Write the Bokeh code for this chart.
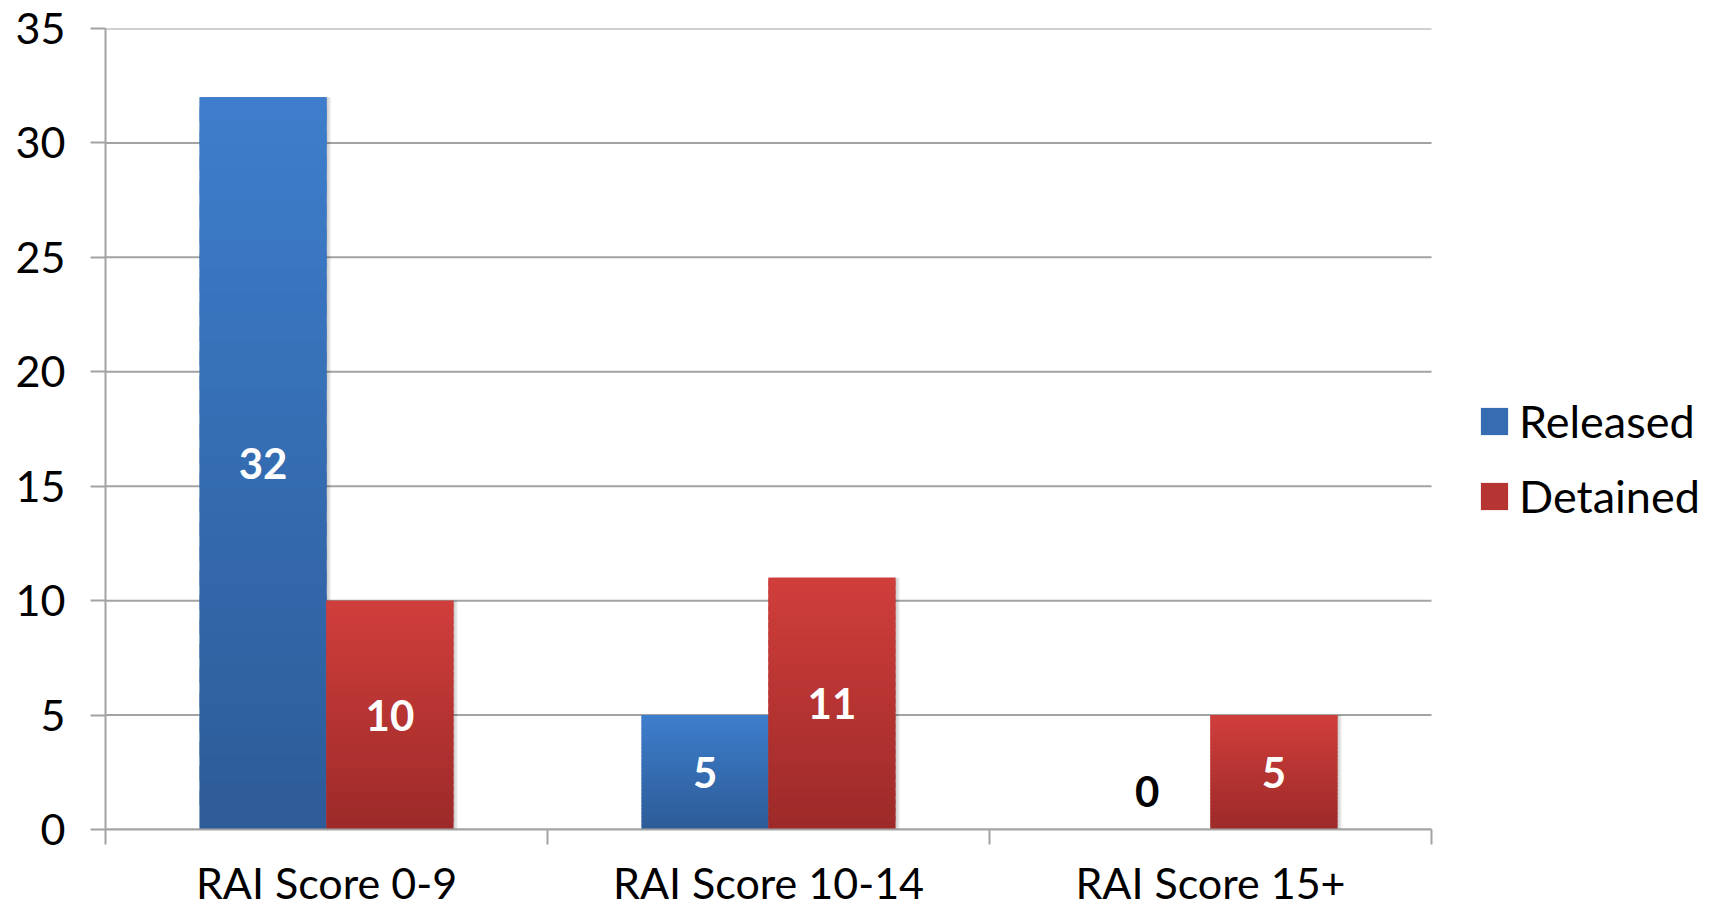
from bokeh.plotting import figure
from bokeh.models import ColumnDataSource, FixedTicker, Legend, LegendItem
from bokeh.core.properties import value
from bokeh.embed import file_html
from bokeh.resources import INLINE

categories = ["RAI Score 0-9", "RAI Score 10-14", "RAI Score 15+"]
released = [32, 5, 0]
detained = [10, 11, 5]
series_names = ["Released", "Detained"]
y_ticks = [0, 5, 10, 15, 20, 25, 30, 35]

FONT = "Lato"
BLUE_TOP, BLUE_BOT = (0x3D, 0x7E, 0xCC), (0x2D, 0x5B, 0x97)
RED_TOP, RED_BOT = (0xD0, 0x3E, 0x3B), (0x9C, 0x2A, 0x29)
GRID = "#A3A3A3"

def mix(a, b, t):
    return "#%02x%02x%02x" % tuple(int(round(a[i] + (b[i] - a[i]) * t)) for i in range(3))

ncat = len(categories)
CAT_PX = 442.0
# frame extends to the right edge so the legend (inside the frame) is not clipped
x_end = (1709 - 105) / CAT_PX
p = figure(width=1709, height=911, x_range=(0, x_end), y_range=(0, y_ticks[-1]),
           output_backend="svg", toolbar_location=None,
           min_border_left=105, min_border_right=0, min_border_top=28, min_border_bottom=82)
p.outline_line_color = None
p.background_fill_color = "white"
p.xgrid.visible = False
p.ygrid.visible = False

# horizontal gridlines limited to the category area
p.segment(x0=[0] * len(y_ticks), x1=[ncat] * len(y_ticks), y0=y_ticks, y1=y_ticks,
          line_color=GRID, line_width=2)

bw = 0.287
N = 30
sh = 4.0 / CAT_PX
legend_renderers = []
for vals, off, top, bot in [(released, -bw / 2, BLUE_TOP, BLUE_BOT), (detained, bw / 2, RED_TOP, RED_BOT)]:
    centers = [i + 0.5 + off for i in range(len(vals))]
    # soft drop shadow
    p.vbar(x=[c + sh for c in centers], top=vals, width=bw, fill_color="black",
           fill_alpha=0.10, line_color=None)
    p.vbar(x=[c + sh / 2 for c in centers], top=vals, width=bw, fill_color="black",
           fill_alpha=0.08, line_color=None)
    base = p.vbar(x=centers, top=vals, width=bw, fill_color=mix(bot, top, 0.5), line_color=None)
    legend_renderers.append(base)
    xs, b, t, c = [], [], [], []
    for i, v in enumerate(vals):
        for k in range(N):
            xs.append(centers[i])
            b.append(v * k / N)
            t.append(v * (k + 1) / N + (v / N * 0.6 if k < N - 1 else 0))
            c.append(mix(bot, top, (k + 0.5) / N))
    src = ColumnDataSource(dict(x=xs, bottom=b, top=t, color=c))
    p.vbar(x="x", bottom="bottom", top="top", width=bw, fill_color="color", line_color=None, source=src)

# data labels
lx, ly, lt, lc, lyo = [], [], [], [], []
for vals, off in [(released, -bw / 2), (detained, bw / 2)]:
    for i, v in enumerate(vals):
        lx.append(i + 0.5 + off)
        ly.append(v / 2)
        lt.append(str(v))
        lc.append("white" if v > 0 else "black")
        lyo.append(0 if v > 0 else -38)
lsrc = ColumnDataSource(dict(x=lx, y=ly, text=lt, color=lc, yo=lyo))
p.text(x="x", y="y", text="text", text_color="color", y_offset="yo", source=lsrc,
       text_font=value(FONT), text_font_style="bold", text_font_size="42px",
       text_align="center", text_baseline="middle")

# y axis
p.yaxis.ticker = FixedTicker(ticks=y_ticks)
p.yaxis.axis_line_color = GRID
p.yaxis.axis_line_width = 2
p.yaxis.major_tick_line_color = GRID
p.yaxis.major_tick_line_width = 2
p.yaxis.major_tick_out = 15
p.yaxis.major_tick_in = 0
p.yaxis.minor_tick_line_color = None
p.yaxis.major_label_standoff = 25
p.yaxis.major_label_text_font = FONT
p.yaxis.major_label_text_font_size = "43px"
p.yaxis.major_label_text_color = "black"

# x axis
p.xaxis.bounds = (0, ncat)
p.xaxis.ticker = FixedTicker(ticks=[i + 0.5 for i in range(ncat)], minor_ticks=list(range(ncat + 1)))
p.xaxis.major_label_overrides = {i + 0.5: c for i, c in enumerate(categories)}
p.xaxis.axis_line_color = GRID
p.xaxis.axis_line_width = 2
p.xaxis.major_tick_line_color = None
p.xaxis.major_tick_out = 0
p.xaxis.major_tick_in = 0
p.xaxis.minor_tick_line_color = GRID
p.xaxis.minor_tick_line_width = 2
p.xaxis.minor_tick_out = 15
p.xaxis.minor_tick_in = 0
p.xaxis.major_label_standoff = 12
p.xaxis.major_label_text_font = FONT
p.xaxis.major_label_text_font_size = "43px"
p.xaxis.major_label_text_color = "black"

# legend
legend = Legend(items=[LegendItem(label=series_names[0], renderers=[legend_renderers[0]]),
                       LegendItem(label=series_names[1], renderers=[legend_renderers[1]])],
                location=(1372, 306), orientation="vertical",
                glyph_width=34, glyph_height=34, label_standoff=8, spacing=21,
                padding=0, margin=0, border_line_color=None, background_fill_alpha=0,
                label_text_font=FONT, label_text_font_size="45px", label_text_color="black")
p.add_layout(legend, "center")

open("out.html", "w").write(file_html(p, INLINE))
